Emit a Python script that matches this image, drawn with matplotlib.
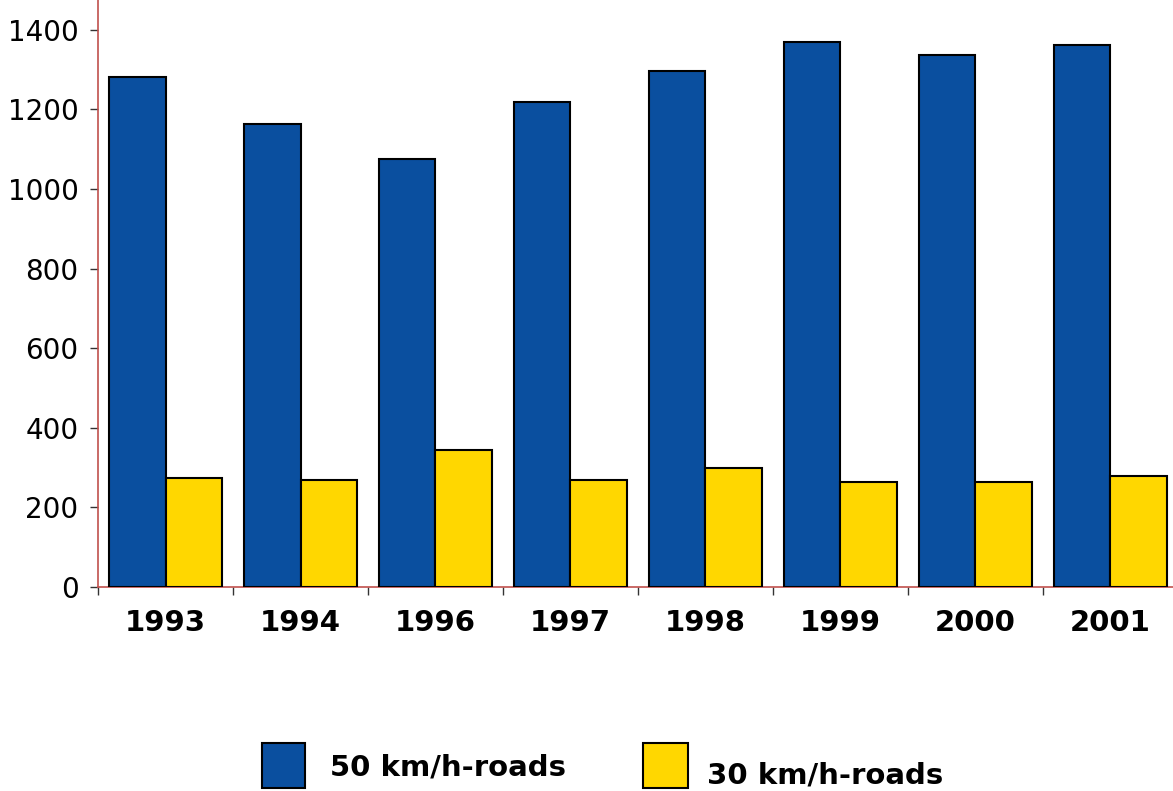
import numpy as np
import matplotlib
matplotlib.use("Agg")
import matplotlib.pyplot as plt
import matplotlib.patches as mpatches

# ── Data ─────────────────────────────────────────────────────────────────────
years    = ["1993", "1994", "1996", "1997", "1998", "1999", "2000", "2001"]
roads_50 = [1281, 1163, 1075, 1218, 1296, 1369, 1337, 1362]
roads_30 = [274, 269, 344, 269, 299, 264, 264, 279]
labels   = ["50 km/h-roads", "30 km/h-roads"]

BLUE   = "#0A4F9F"
YELLOW = "#FFD700"
RED    = "#C0504D"

plt.rcParams["font.family"] = ["DejaVu Sans"]

fig = plt.figure(figsize=(11.73, 7.91), dpi=100)
ax = fig.add_axes([98 / 1173, 1 - 587 / 791, 1080 / 1173, 587 / 791])

x = np.arange(len(years))
w = 0.42
ax.bar(x - w / 2, roads_50, width=w, color=BLUE, edgecolor="black", lw=1.5, zorder=3)
ax.bar(x + w / 2, roads_30, width=w, color=YELLOW, edgecolor="black", lw=1.5, zorder=3)

ax.set_xlim(-0.5, len(years) - 0.5)
ax.set_ylim(0, 1475)

# spines
for s in ["top", "right"]:
    ax.spines[s].set_visible(False)
ax.spines["left"].set_color(RED)
ax.spines["bottom"].set_color(RED)
ax.spines["left"].set_linewidth(1.2)
ax.spines["bottom"].set_linewidth(1.2)

# y ticks
ax.set_yticks(np.arange(0, 1401, 200))
ax.tick_params(axis="y", length=6, width=1, color="#333333", labelsize=20, pad=8)

# x ticks: labels centred, tick marks at group boundaries
ax.set_xticks(x)
ax.set_xticklabels(years, fontsize=21, fontweight="bold")
ax.tick_params(axis="x", which="major", length=0, pad=16)
ax.set_xticks(np.arange(-0.5, len(years), 1), minor=True)
ax.tick_params(axis="x", which="minor", length=6, width=1, color="#333333")

# legend drawn in figure coordinates
fig.add_artist(mpatches.Rectangle((262 / 1173, 1 - 788 / 791), 43 / 1173, 45 / 791,
                                  transform=fig.transFigure, facecolor=BLUE,
                                  edgecolor="black", lw=1.5))
fig.text(330 / 1173, 1 - 767 / 791, labels[0], fontsize=21, fontweight="bold",
         va="center", ha="left")
fig.add_artist(mpatches.Rectangle((643 / 1173, 1 - 788 / 791), 45 / 1173, 45 / 791,
                                  transform=fig.transFigure, facecolor=YELLOW,
                                  edgecolor="black", lw=1.5))
fig.text(707 / 1173, 1 - 775 / 791, labels[1], fontsize=21, fontweight="bold",
         va="center", ha="left")

fig.savefig("out.png", dpi=100)
